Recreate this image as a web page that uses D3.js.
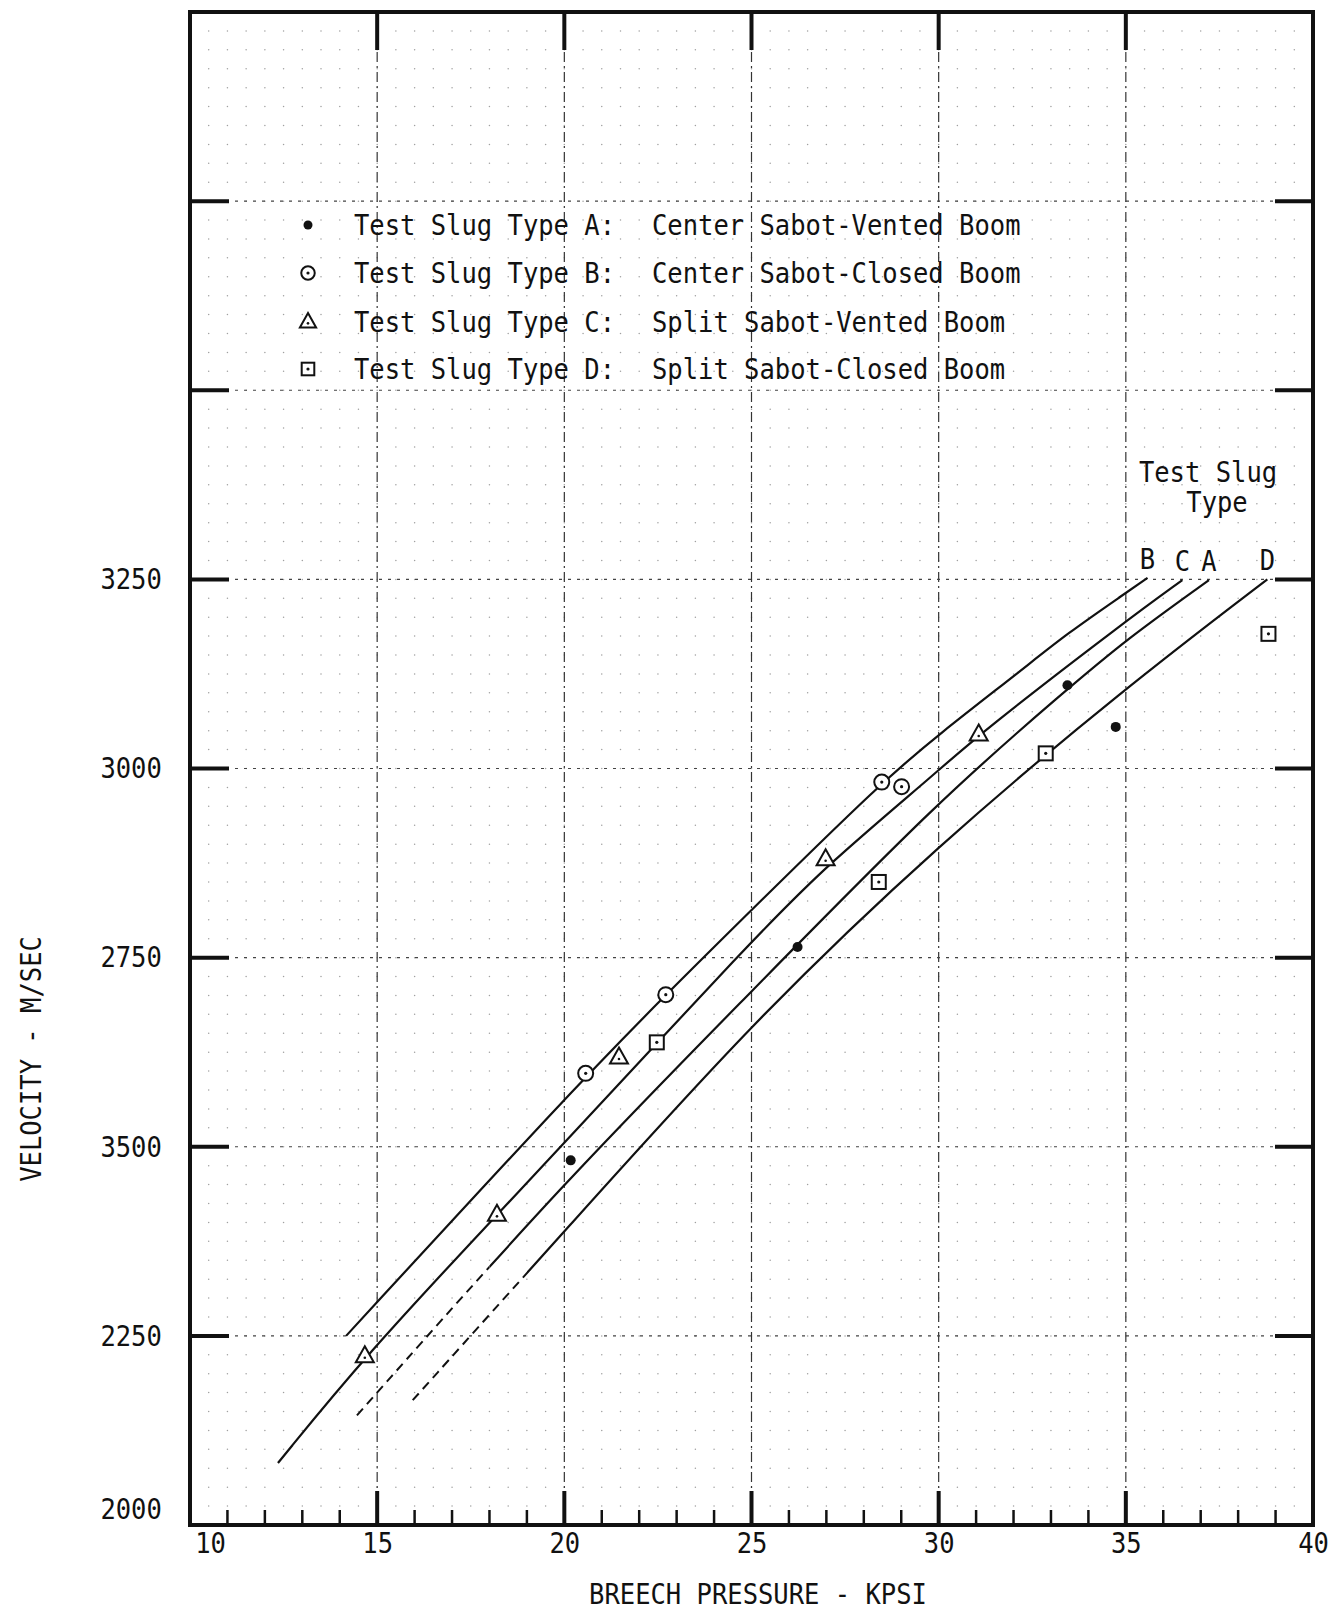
<!DOCTYPE html>
<html><head><meta charset="utf-8">
<script src="https://cdn.jsdelivr.net/npm/d3@7"></script>
<style>body{margin:0;background:#fff} svg{display:block}</style>
</head><body><svg id="chart" width="1332" height="1617"></svg>
<script>
// ---- data ----
const pressureTicks = [10, 15, 20, 25, 30, 35, 40];
const pressureTickLabels = ["10", "15", "20", "25", "30", "35", "40"];
const velocityTicks = [2000, 2250, 2500, 2750, 3000, 3250];
const velocityTickLabels = ["2000", "2250", "3500", "2750", "3000", "3250"];

// measured points [breech pressure kpsi, velocity m/s]
const typeA = [[20.17, 2482], [26.23, 2764], [33.44, 3110], [34.73, 3055]];
const typeB = [[20.57, 2597], [22.71, 2701], [28.48, 2982], [29.01, 2976]];
const typeC = [[14.67, 2223], [18.20, 2410], [21.46, 2618], [26.98, 2880], [31.07, 3045]];
const typeD = [[22.47, 2638], [28.40, 2850], [32.86, 3020], [38.81, 3178]];

// fitted curves per slug type
const curveB = [[14.17, 2250], [20, 2564], [22.71, 2701], [25, 2813], [28.48, 2982], [30, 3045], [32.24, 3131], [33.42, 3178], [35, 3232], [35.58, 3252]];
const curveC = [[12.35, 2082], [14.67, 2223], [18.2, 2410], [20, 2505], [25, 2772], [27, 2872], [30, 2997], [31.07, 3045], [35, 3195], [36.51, 3249]];
const curveA = [[14.46, 2145], [20, 2454], [25, 2705], [30, 2958], [33.44, 3105], [35, 3170], [37.22, 3249]];
const curveD = [[15.95, 2165], [20, 2388], [25, 2664], [30, 2900], [35, 3107], [38.78, 3250]];

const curveNames = ["B", "C", "A", "D"];
const legendKeys = ["Test Slug Type A:", "Test Slug Type B:", "Test Slug Type C:", "Test Slug Type D:"];
const legendDescs = ["Center Sabot-Vented Boom", "Center Sabot-Closed Boom", "Split Sabot-Vented Boom", "Split Sabot-Closed Boom"];
const xTitle = "BREECH PRESSURE - KPSI";
const yTitle = "VELOCITY - M/SEC";
const curveHeader = ["Test Slug", "Type"];

// ---- drawing ----
const svg = d3.select("#chart");
const x = d3.scaleLinear().domain([10, 40]).range([190, 1313]);
const y = d3.scaleLinear().domain([2000, 4000]).range([1525, 12]);
const FONT = "DejaVu Sans Mono";
const FS = 29, SX = 0.88, INK = "#111";

function label(px, py, txt, anchor, rot) {
  const g = svg.append("g").attr("transform",
    `translate(${px},${py})${rot ? ` rotate(${rot})` : ""} scale(${SX},1)`);
  g.append("text").attr("text-anchor", anchor || "start")
    .attr("font-family", FONT).attr("font-size", FS).attr("fill", INK).text(txt);
}

// graph-paper dots
const dotX = d3.range(10.5, 40, 0.5), dotY = d3.range(2025, 4000, 25);
const dots = [];
dotX.forEach(a => dotY.forEach(b => dots.push([a, b])));
svg.append("g").selectAll("circle").data(dots).join("circle")
  .attr("cx", d => x(d[0])).attr("cy", d => y(d[1])).attr("r", 0.75).attr("fill", "#a0a0a0");

// major grid
svg.append("g").selectAll("line").data(d3.range(15, 40, 5)).join("line")
  .attr("x1", d => x(d)).attr("x2", d => x(d)).attr("y1", y(4000)).attr("y2", y(2000))
  .attr("stroke", "#333").attr("stroke-width", 1.2).attr("stroke-dasharray", "10,4,2,4");
svg.append("g").selectAll("line").data(d3.range(2250, 4000, 250)).join("line")
  .attr("x1", x(10)).attr("x2", x(40)).attr("y1", d => y(d)).attr("y2", d => y(d))
  .attr("stroke", "#444").attr("stroke-width", 1.1).attr("stroke-dasharray", "3,6");

// frame
svg.append("rect").attr("x", x(10)).attr("y", y(4000))
  .attr("width", x(40) - x(10)).attr("height", y(2000) - y(4000))
  .attr("fill", "none").attr("stroke", INK).attr("stroke-width", 4);

// tick marks
const tk = svg.append("g").attr("stroke", INK);
d3.range(15, 40, 5).forEach(v => {
  tk.append("line").attr("x1", x(v)).attr("x2", x(v)).attr("y1", y(4000)).attr("y2", y(4000) + 38).attr("stroke-width", 4);
  tk.append("line").attr("x1", x(v)).attr("x2", x(v)).attr("y1", y(2000)).attr("y2", y(2000) - 34).attr("stroke-width", 4);
});
d3.range(11, 40, 1).filter(v => v % 5 !== 0).forEach(v => {
  tk.append("line").attr("x1", x(v)).attr("x2", x(v)).attr("y1", y(2000)).attr("y2", y(2000) - 15).attr("stroke-width", 2.5);
});
d3.range(2250, 4000, 250).forEach(v => {
  tk.append("line").attr("x1", x(10)).attr("x2", x(10) + 39).attr("y1", y(v)).attr("y2", y(v)).attr("stroke-width", 4);
  tk.append("line").attr("x1", x(40)).attr("x2", x(40) - 38).attr("y1", y(v)).attr("y2", y(v)).attr("stroke-width", 4);
});

// axes labels through d3 axes
const ax = svg.append("g").attr("transform", `translate(0,${y(2000)})`)
  .call(d3.axisBottom(x).tickValues(pressureTicks).tickFormat((d, i) => pressureTickLabels[i]).tickSize(0).tickPadding(7));
ax.select(".domain").remove();
ax.selectAll("text").attr("font-family", FONT).attr("font-size", FS).attr("fill", INK)
  .attr("transform", (d, i) => `translate(${i === 0 ? 20 : 0},0) scale(${SX},1)`);

const ay = svg.append("g").attr("transform", `translate(${x(10)},0)`)
  .call(d3.axisLeft(y).tickValues(velocityTicks).tickFormat((d, i) => velocityTickLabels[i]).tickSize(0).tickPadding(32));
ay.select(".domain").remove();
ay.selectAll("text").attr("font-family", FONT).attr("font-size", FS).attr("fill", INK)
  .attr("transform", (d, i) => `translate(0,${i === 0 ? -16 : 0}) scale(${SX},1)`);

label(758, 1604, xTitle, "middle");
label(41, 1059, yTitle, "middle", -90);

// curves
const line = d3.line().x(d => x(d[0])).y(d => y(d[1])).curve(d3.curveBasis);
const defs = svg.append("defs");
function clip(id, x0, x1) {
  defs.append("clipPath").attr("id", id).append("rect").attr("x", x0).attr("y", 0).attr("width", x1 - x0).attr("height", 1617);
}
const curves = [curveB, curveC, curveA, curveD];
const dashUntil = [null, null, 18.0, 19.0];
curves.forEach((c, i) => {
  if (dashUntil[i] == null) {
    svg.append("path").attr("d", line(c)).attr("fill", "none").attr("stroke", INK).attr("stroke-width", 2.2);
  } else {
    clip("cl" + i, 0, x(dashUntil[i]));
    clip("cr" + i, x(dashUntil[i]), 1332);
    svg.append("path").attr("d", line(c)).attr("fill", "none").attr("stroke", INK).attr("stroke-width", 2)
      .attr("stroke-dasharray", "9,6").attr("clip-path", `url(#cl${i})`);
    svg.append("path").attr("d", line(c)).attr("fill", "none").attr("stroke", INK).attr("stroke-width", 2.2)
      .attr("clip-path", `url(#cr${i})`);
  }
  const last = c[c.length - 1];
  label(x(last[0]), y(last[1]) - 9, curveNames[i], "middle");
});
label(1208, 482, curveHeader[0], "middle");
label(1217, 512, curveHeader[1], "middle");

// symbols
function sym(g, type, cx, cy, k) {
  k = k || 1;
  if (type === "A") {
    g.append("circle").attr("cx", cx).attr("cy", cy).attr("r", 5 * k).attr("fill", INK);
  } else if (type === "B") {
    g.append("circle").attr("cx", cx).attr("cy", cy).attr("r", 7.5 * k).attr("fill", "#fff").attr("stroke", INK).attr("stroke-width", 2);
    g.append("circle").attr("cx", cx).attr("cy", cy).attr("r", 1.6).attr("fill", INK);
  } else if (type === "C") {
    const s = k;
    g.append("path").attr("d", `M${cx},${cy - 10 * s}L${cx + 9 * s},${cy + 6 * s}L${cx - 9 * s},${cy + 6 * s}Z`)
      .attr("fill", "#fff").attr("stroke", INK).attr("stroke-width", 2);
    g.append("circle").attr("cx", cx).attr("cy", cy + 1.5 * s).attr("r", 1.3).attr("fill", INK);
  } else {
    g.append("rect").attr("x", cx - 7 * k).attr("y", cy - 7 * k).attr("width", 14 * k).attr("height", 14 * k)
      .attr("fill", "#fff").attr("stroke", INK).attr("stroke-width", 2);
    g.append("circle").attr("cx", cx).attr("cy", cy).attr("r", 1.6).attr("fill", INK);
  }
}
const series = [["A", typeA], ["B", typeB], ["C", typeC], ["D", typeD]];
const mg = svg.append("g");
series.forEach(([t, pts]) => pts.forEach(p => sym(mg, t, x(p[0]), y(p[1]))));

// legend
const legTypes = ["A", "B", "C", "D"];
const legBase = [235, 283, 332, 379];
legTypes.forEach((t, i) => {
  sym(svg, t, 308, legBase[i] - 10, 0.9);
  label(354, legBase[i], legendKeys[i], "start");
  label(652, legBase[i], legendDescs[i], "start");
});
</script>
</body></html>
